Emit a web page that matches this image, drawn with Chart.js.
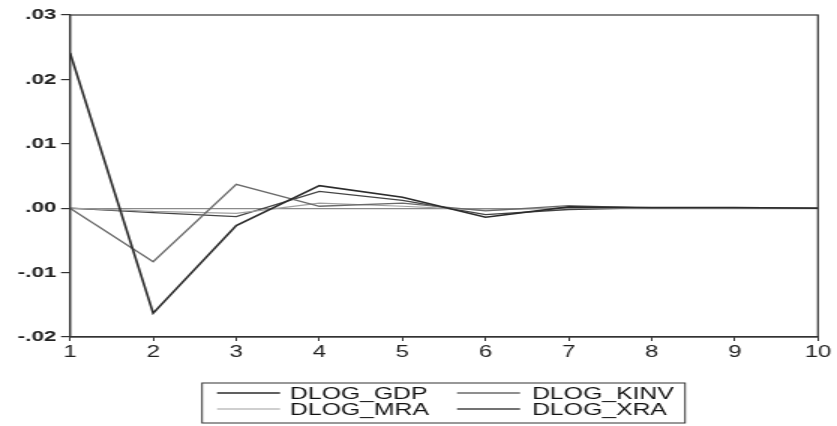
<!DOCTYPE html>
<html>
<head>
<meta charset="utf-8">
<script src="https://cdn.jsdelivr.net/npm/chart.js@4/dist/chart.umd.min.js"></script>
<style>
  html, body { margin: 0; padding: 0; background: #ffffff; overflow: hidden; }
  #wrap { width: 558px; height: 426px; transform: scaleX(1.5); transform-origin: 0 0; }
</style>
</head>
<body>
<div id="wrap"><canvas id="c" width="558" height="426"></canvas></div>
<script>
const periods = [1, 2, 3, 4, 5, 6, 7, 8, 9, 10];
const seriesNames = ['DLOG_GDP', 'DLOG_KINV', 'DLOG_MRA', 'DLOG_XRA'];
const dlogGdp  = [0.0241, -0.0163, -0.0027, 0.0035, 0.0017, -0.0014, 0.0002, 0.0001, 0.0001, 0.0000];
const dlogKinv = [0.0000, -0.0083, 0.0037, 0.0003, 0.0008, -0.0004, 0.0004, 0.0000, 0.0001, 0.0000];
const dlogMra  = [0.0000, -0.0005, -0.0008, 0.0008, 0.0003, -0.0003, 0.0001, 0.0000, 0.0000, 0.0000];
const dlogXra  = [0.0000, -0.0007, -0.0013, 0.0026, 0.0012, -0.0010, -0.0002, 0.0001, 0.0000, 0.0000];
const yTickLabels = { '0.03': '.03', '0.02': '.02', '0.01': '.01', '0': '.00', '-0.01': '-.01', '-0.02': '-.02' };

const colors = ['#2b2b2b', '#6a6a6a', '#a0a0a0', '#444444'];
const widths = [1.6, 1.3, 1.2, 1.3];
const allValues = [dlogGdp, dlogKinv, dlogMra, dlogXra];

const datasets = allValues.map((vals, i) => ({
  label: seriesNames[i],
  data: periods.map((p, j) => ({ x: p, y: vals[j] })),
  borderColor: colors[i],
  backgroundColor: colors[i],
  borderWidth: widths[i],
  pointRadius: 0,
  tension: 0,
  fill: false
}));

const framePlugin = {
  id: 'frame',
  afterDatasetsDraw(chart) {
    const { ctx, chartArea: a } = chart;
    ctx.save();
    ctx.strokeStyle = '#333';
    ctx.lineWidth = 1.2;
    ctx.strokeRect(a.left, a.top, a.right - a.left, a.bottom - a.top);
    ctx.restore();
  }
};

const legendPlugin = {
  id: 'boxLegend',
  afterDraw(chart) {
    const ctx = chart.ctx;
    const box = { x: 134.7, y: 383, w: 322, h: 40 };
    ctx.save();
    ctx.strokeStyle = '#333';
    ctx.lineWidth = 1;
    ctx.strokeRect(box.x, box.y, box.w, box.h);
    const cols = [{ sx: 144.7, ex: 186.7, tx: 193.3 }, { sx: 304.7, ex: 346.7, tx: 354.7 }];
    const rows = [393, 409];
    ctx.font = '16.5px "Liberation Sans", Arial, sans-serif';
    ctx.fillStyle = '#111';
    ctx.textBaseline = 'middle';
    ctx.textAlign = 'left';
    chart.data.datasets.forEach((ds, i) => {
      const c = cols[i % 2], r = rows[Math.floor(i / 2)];
      ctx.strokeStyle = ds.borderColor;
      ctx.lineWidth = ds.borderWidth;
      ctx.beginPath();
      ctx.moveTo(c.sx, r);
      ctx.lineTo(c.ex, r);
      ctx.stroke();
      ctx.fillText(ds.label, c.tx, r + 1);
    });
    ctx.restore();
  }
};

new Chart(document.getElementById('c'), {
  type: 'line',
  data: { datasets },
  options: {
    responsive: false,
    animation: false,
    events: [],
    layout: { padding: { left: 0, top: 15, right: 12.7, bottom: 64 } },
    plugins: { legend: { display: false }, tooltip: { enabled: false } },
    scales: {
      x: {
        type: 'linear',
        min: 1, max: 10,
        afterFit: s => { s.height = 25; },
        ticks: { stepSize: 1, color: '#222', padding: 2, maxRotation: 0,
                 font: { family: '"Liberation Sans", Arial, sans-serif', size: 16 } },
        grid: { drawOnChartArea: false, drawTicks: true, tickLength: 4, tickColor: '#333' },
        border: { display: true, color: '#333', width: 1.2 }
      },
      y: {
        min: -0.02, max: 0.03,
        afterFit: s => { s.width = 46.7; },
        ticks: {
          stepSize: 0.01, color: '#222', padding: 3,
          font: { family: '"Liberation Sans", Arial, sans-serif', size: 15, weight: 'bold' },
          callback: v => yTickLabels[String(Math.round(v * 100) / 100)] ?? ''
        },
        grid: {
          drawOnChartArea: true, drawTicks: true, tickLength: 6, tickColor: '#333',
          color: c => (c.tick && Math.abs(c.tick.value) < 1e-9) ? '#8a8a8a' : 'rgba(0,0,0,0)',
          lineWidth: 1.2
        },
        border: { display: true, color: '#333', width: 1.2 }
      }
    }
  },
  plugins: [framePlugin, legendPlugin]
});
</script>
</body>
</html>
